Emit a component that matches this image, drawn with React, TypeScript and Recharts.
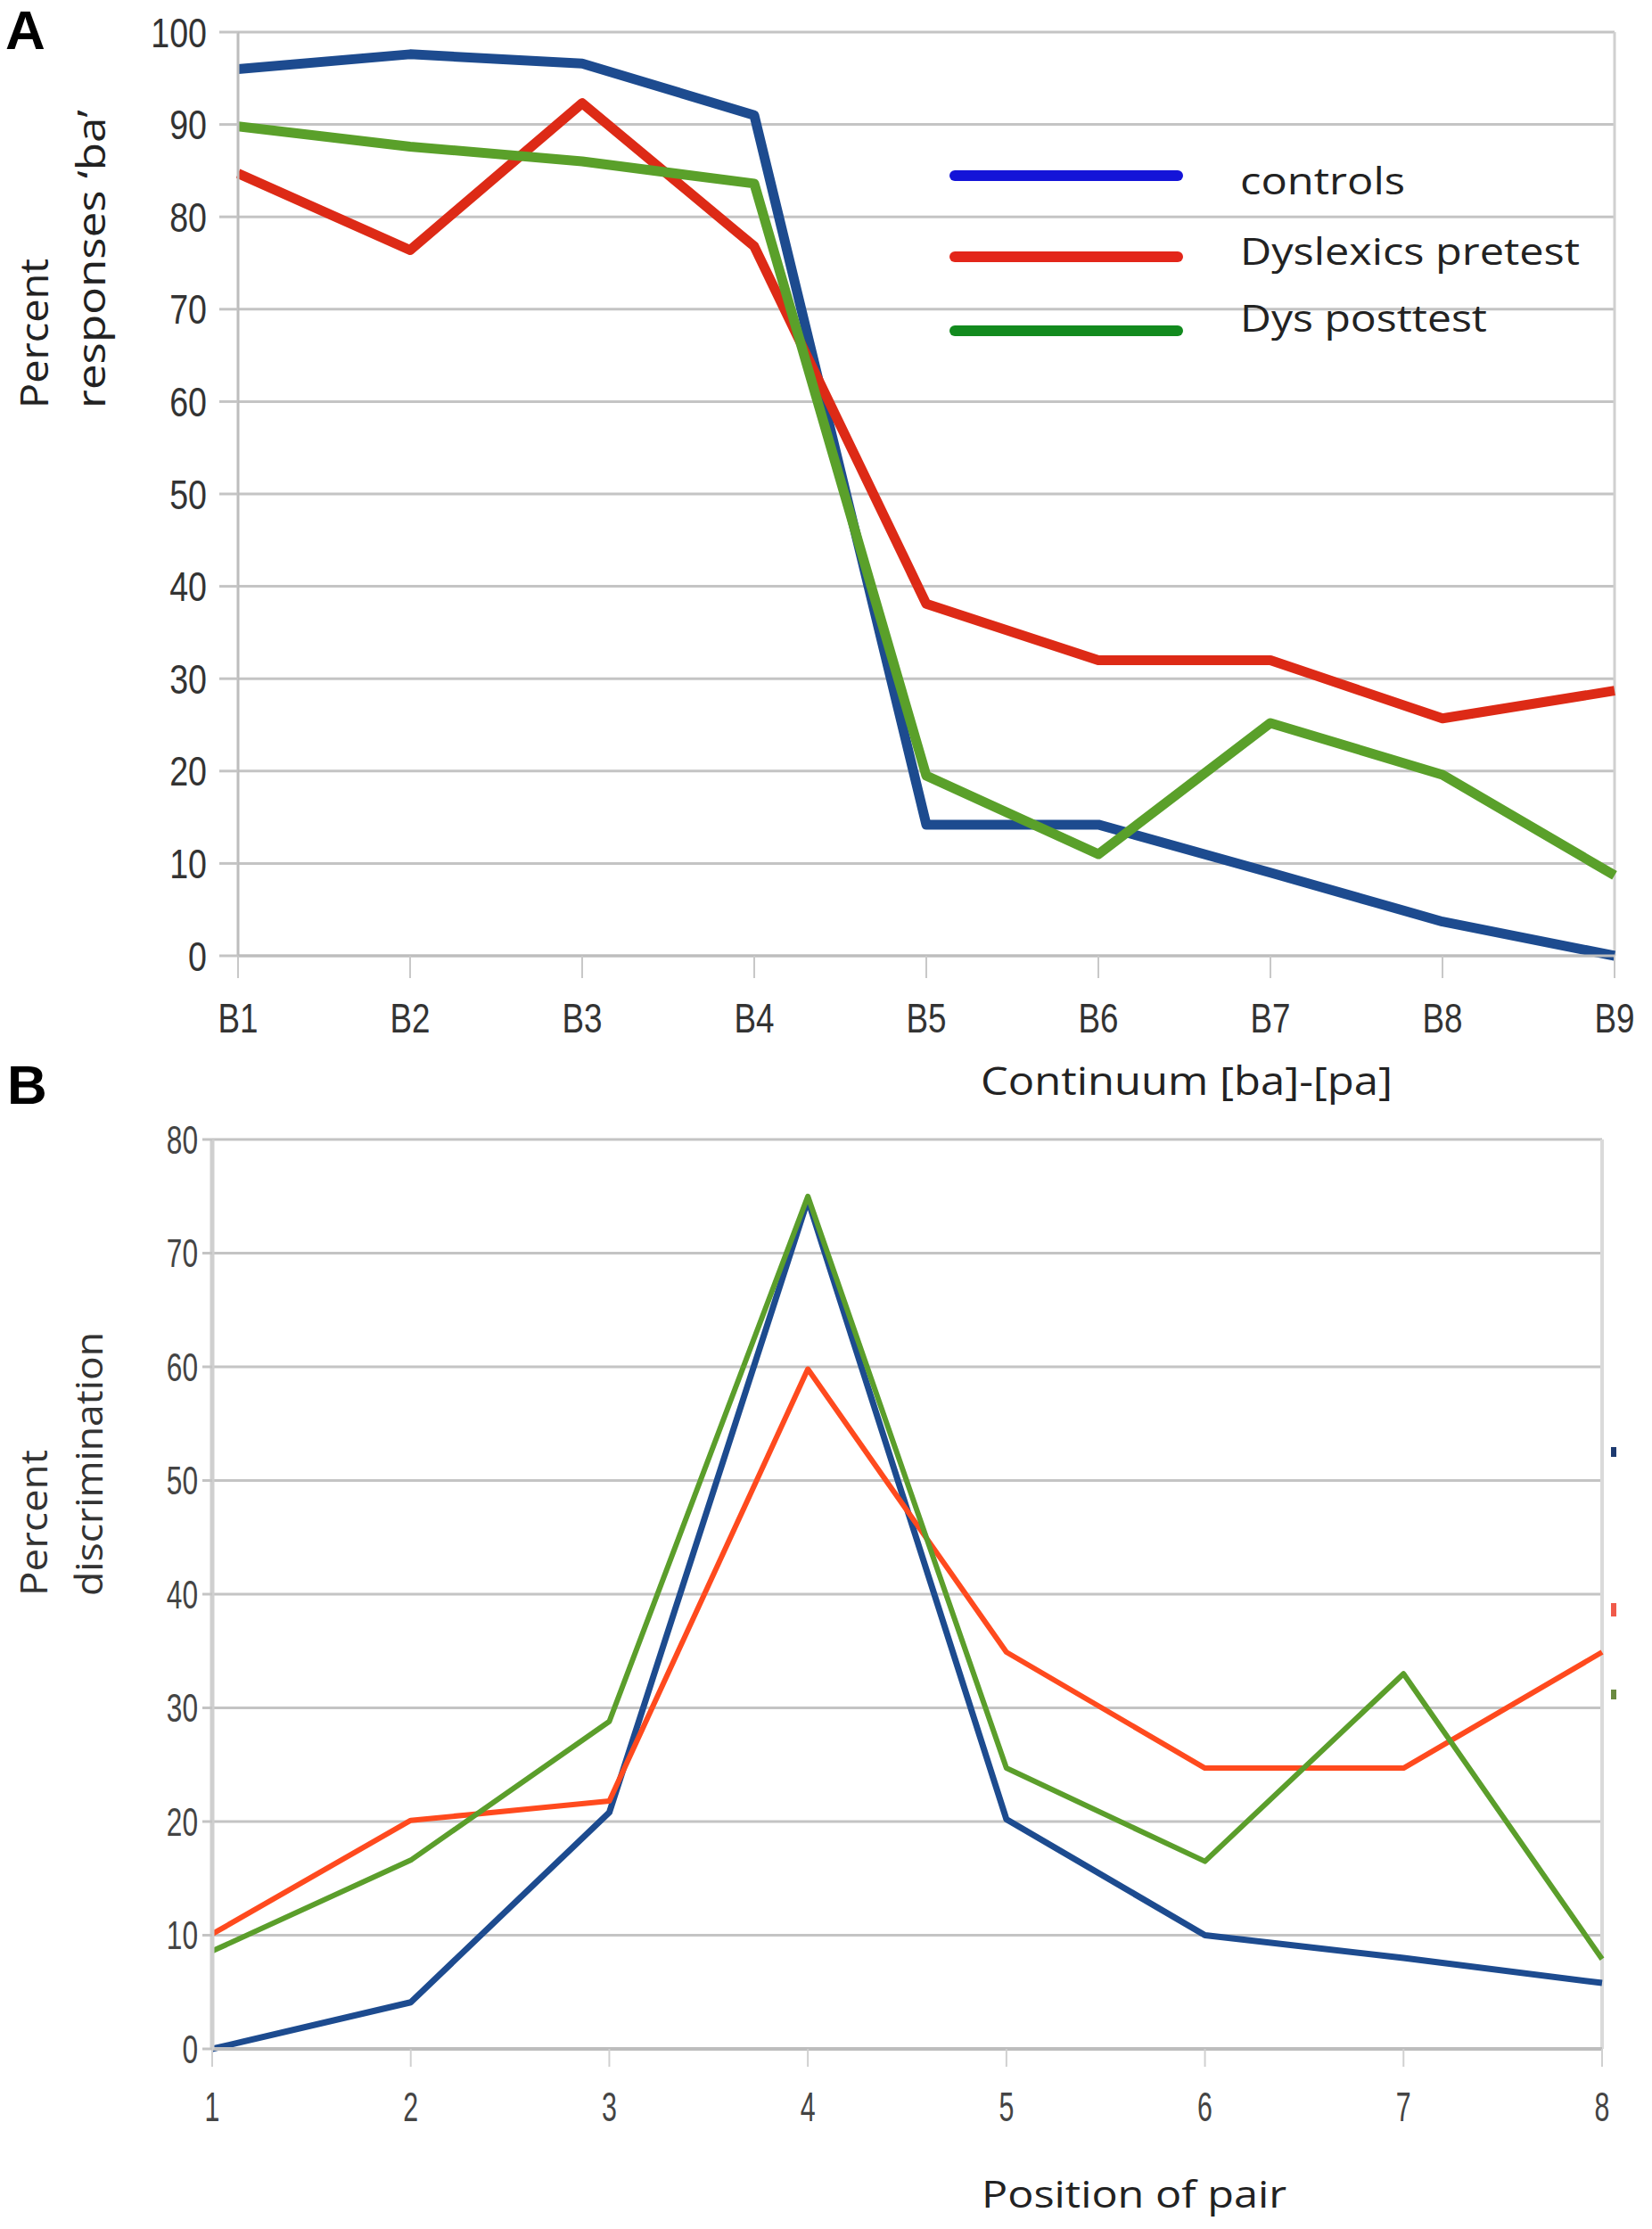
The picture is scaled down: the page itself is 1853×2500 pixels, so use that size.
import React from 'react';
import { LineChart, Line, XAxis, YAxis, CartesianGrid, ReferenceLine } from 'recharts';

// ---------- Panel A data ----------
const categoriesA = ['B1', 'B2', 'B3', 'B4', 'B5', 'B6', 'B7', 'B8', 'B9'];
const controlsA = [96, 97.6, 96.6, 91, 14.2, 14.2, 9, 3.7, 0];
const pretestA = [84.7, 76.4, 92.3, 76.8, 38.1, 32, 32, 25.7, 28.7];
const posttestA = [89.8, 87.6, 86, 83.6, 19.5, 11, 25.2, 19.6, 8.7];
const ticksA = [0, 10, 20, 30, 40, 50, 60, 70, 80, 90, 100];

// ---------- Panel B data ----------
const positionsB = ['1', '2', '3', '4', '5', '6', '7', '8'];
const controlsB = [0, 4.1, 20.8, 74.7, 20.2, 10, 8, 5.8];
const pretestB = [10.1, 20.1, 21.8, 59.8, 34.9, 24.7, 24.7, 34.9];
const posttestB = [8.6, 16.6, 28.8, 75, 24.7, 16.5, 33, 7.9];
const ticksB = [0, 10, 20, 30, 40, 50, 60, 70, 80];

// ---------- Text ----------
const legendLabels = ['controls', 'Dyslexics pretest', 'Dys posttest'];
const legendColors = ['#1414d8', '#e3261a', '#128a1e'];
const titleA = 'Continuum [ba]-[pa]';
const titleB = 'Position of pair';
const yTitleA = ['Percent', 'responses \u2018ba\u2019'];
const yTitleB = ['Percent', 'discrimination'];

const dataA = categoriesA.map((c, i) => ({
  cat: c,
  controls: controlsA[i],
  pretest: pretestA[i],
  posttest: posttestA[i],
}));
const dataB = positionsB.map((c, i) => ({
  cat: c,
  controls: controlsB[i],
  pretest: pretestB[i],
  posttest: posttestB[i],
}));

const TICKFONT = "'Liberation Sans', Arial, sans-serif";
const SANS = "'Open Sans', 'Noto Sans', sans-serif";
const GRID = '#c4c4c4';
const BLUE = '#1d4b8f';

function makeXTick(fontSize: number, sx: number, fill: string) {
  return (props: any) => {
    const { x, y, payload } = props;
    return (
      <g transform={`translate(${x},${y})`}>
        <text transform={`scale(${sx},1)`} textAnchor="middle" dy="0.71em" fontSize={fontSize} fontFamily={TICKFONT} fill={fill}>
          {payload.value}
        </text>
      </g>
    );
  };
}
function makeYTick(fontSize: number, sx: number, fill: string) {
  return (props: any) => {
    const { x, y, payload } = props;
    return (
      <g transform={`translate(${x},${y})`}>
        <text transform={`scale(${sx},1)`} textAnchor="end" dy="0.355em" fontSize={fontSize} fontFamily={TICKFONT} fill={fill}>
          {payload.value}
        </text>
      </g>
    );
  };
}

const XTickA = makeXTick(46, 0.8, '#333');
const YTickA = makeYTick(47, 0.8, '#333');
const XTickB = makeXTick(46, 0.66, '#444');
const YTickB = makeYTick(44, 0.72, '#444');

export default function App() {
  return (
    <div style={{ position: 'absolute', left: 0, top: 0, width: 1853, height: 2500, background: '#fff', overflow: 'hidden' }}>
      {/* Panel A */}
      <div style={{ position: 'absolute', left: 0, top: 0 }}>
        <LineChart width={1853} height={1180} data={dataA} margin={{ top: 36, right: 42, left: 0, bottom: 8 }}>
          <CartesianGrid vertical={false} stroke={GRID} strokeWidth={3} />
          <XAxis
            dataKey="cat"
            height={100}
            padding={{ left: 0, right: 0 }}
            interval={0}
            tickSize={25}
            tickMargin={28}
            tick={XTickA}
            axisLine={{ stroke: '#bdbdbd', strokeWidth: 3 }}
            tickLine={{ stroke: '#c8c8c8', strokeWidth: 2 }}
          />
          <YAxis
            width={267}
            domain={[0, 100]}
            ticks={ticksA}
            interval={0}
            tickSize={21}
            tickMargin={14}
            tick={YTickA}
            axisLine={{ stroke: '#bdbdbd', strokeWidth: 3 }}
            tickLine={{ stroke: GRID, strokeWidth: 3 }}
          />
          <ReferenceLine x="B9" stroke="#d0d0d0" strokeWidth={3} />
          <Line dataKey="controls" stroke={BLUE} strokeWidth={11} dot={false} isAnimationActive={false} strokeLinejoin="round" />
          <Line dataKey="pretest" stroke="#dd2a16" strokeWidth={11} dot={false} isAnimationActive={false} strokeLinejoin="round" />
          <Line dataKey="posttest" stroke="#5aa02a" strokeWidth={11} dot={false} isAnimationActive={false} strokeLinejoin="round" />
        </LineChart>
      </div>

      {/* Panel B */}
      <div style={{ position: 'absolute', left: 0, top: 1240 }}>
        <LineChart width={1853} height={1160} data={dataB} margin={{ top: 38, right: 56, left: 0, bottom: 2 }}>
          <CartesianGrid vertical={false} stroke={GRID} strokeWidth={3} />
          <XAxis
            dataKey="cat"
            height={100}
            padding={{ left: 0, right: 0 }}
            interval={0}
            tickSize={20}
            tickMargin={28}
            tick={XTickB}
            axisLine={{ stroke: '#bdbdbd', strokeWidth: 4 }}
            tickLine={{ stroke: '#d0d0d0', strokeWidth: 2 }}
          />
          <YAxis
            width={238}
            domain={[0, 80]}
            ticks={ticksB}
            interval={0}
            tickSize={11}
            tickMargin={5}
            tick={YTickB}
            axisLine={{ stroke: '#cfcfcf', strokeWidth: 5 }}
            tickLine={{ stroke: GRID, strokeWidth: 3 }}
          />
          <ReferenceLine x="8" stroke="#dadada" strokeWidth={4} />
          <Line dataKey="controls" stroke={BLUE} strokeWidth={7} dot={false} isAnimationActive={false} strokeLinejoin="round" />
          <Line dataKey="pretest" stroke="#ff4a1e" strokeWidth={6} dot={false} isAnimationActive={false} strokeLinejoin="round" />
          <Line dataKey="posttest" stroke="#5b9e2b" strokeWidth={6} dot={false} isAnimationActive={false} strokeLinejoin="round" />
        </LineChart>
      </div>

      {/* Overlay texts */}
      <svg width={1853} height={2500} style={{ position: 'absolute', left: 0, top: 0, pointerEvents: 'none' }}>
        <text x={6} y={55} fontSize={62} fontWeight="bold" fontFamily="'Liberation Sans', Arial, sans-serif" fill="#000">A</text>
        <text x={8} y={1238} fontSize={62} fontWeight="bold" fontFamily="'Liberation Sans', Arial, sans-serif" fill="#000">B</text>

        {/* Y titles */}
        <text transform="translate(54,458) rotate(-90)" fontSize={44} fontFamily={SANS} fill="#222" textLength={168} lengthAdjust="spacingAndGlyphs">{yTitleA[0]}</text>
        <text transform="translate(118,458) rotate(-90)" fontSize={44} fontFamily={SANS} fill="#222" textLength={335} lengthAdjust="spacingAndGlyphs">{yTitleA[1]}</text>
        <text transform="translate(53,1790) rotate(-90)" fontSize={42} fontFamily={SANS} fill="#333" textLength={164} lengthAdjust="spacingAndGlyphs">{yTitleB[0]}</text>
        <text transform="translate(115,1790) rotate(-90)" fontSize={42} fontFamily={SANS} fill="#333" textLength={296} lengthAdjust="spacingAndGlyphs">{yTitleB[1]}</text>

        {/* X titles */}
        <text x={1100} y={1228} fontSize={44} fontFamily={SANS} fill="#222" textLength={462} lengthAdjust="spacingAndGlyphs">{titleA}</text>
        <text x={1101} y={2476} fontSize={42} fontFamily={SANS} fill="#222" textLength={342} lengthAdjust="spacingAndGlyphs">{titleB}</text>

        {/* Legend of panel A */}
        {legendLabels.map((l, i) => {
          const lineY = [197, 288, 371][i];
          const textY = [218, 297, 372][i];
          const len = [185, 381, 277][i];
          return (
            <g key={l}>
              <line x1={1071} x2={1321} y1={lineY} y2={lineY} stroke={legendColors[i]} strokeWidth={12} strokeLinecap="round" />
              <text x={1391} y={textY} fontSize={42} fontFamily={SANS} fill="#222" textLength={len} lengthAdjust="spacingAndGlyphs">{l}</text>
            </g>
          );
        })}

        {/* Residual legend marks of panel B */}
        <rect x={1807} y={1623} width={6} height={11} fill="#1d3a70" />
        <rect x={1807} y={1798} width={6} height={15} fill="#f05a4a" />
        <rect x={1807} y={1895} width={6} height={11} fill="#6a8a40" />
      </svg>
    </div>
  );
}
